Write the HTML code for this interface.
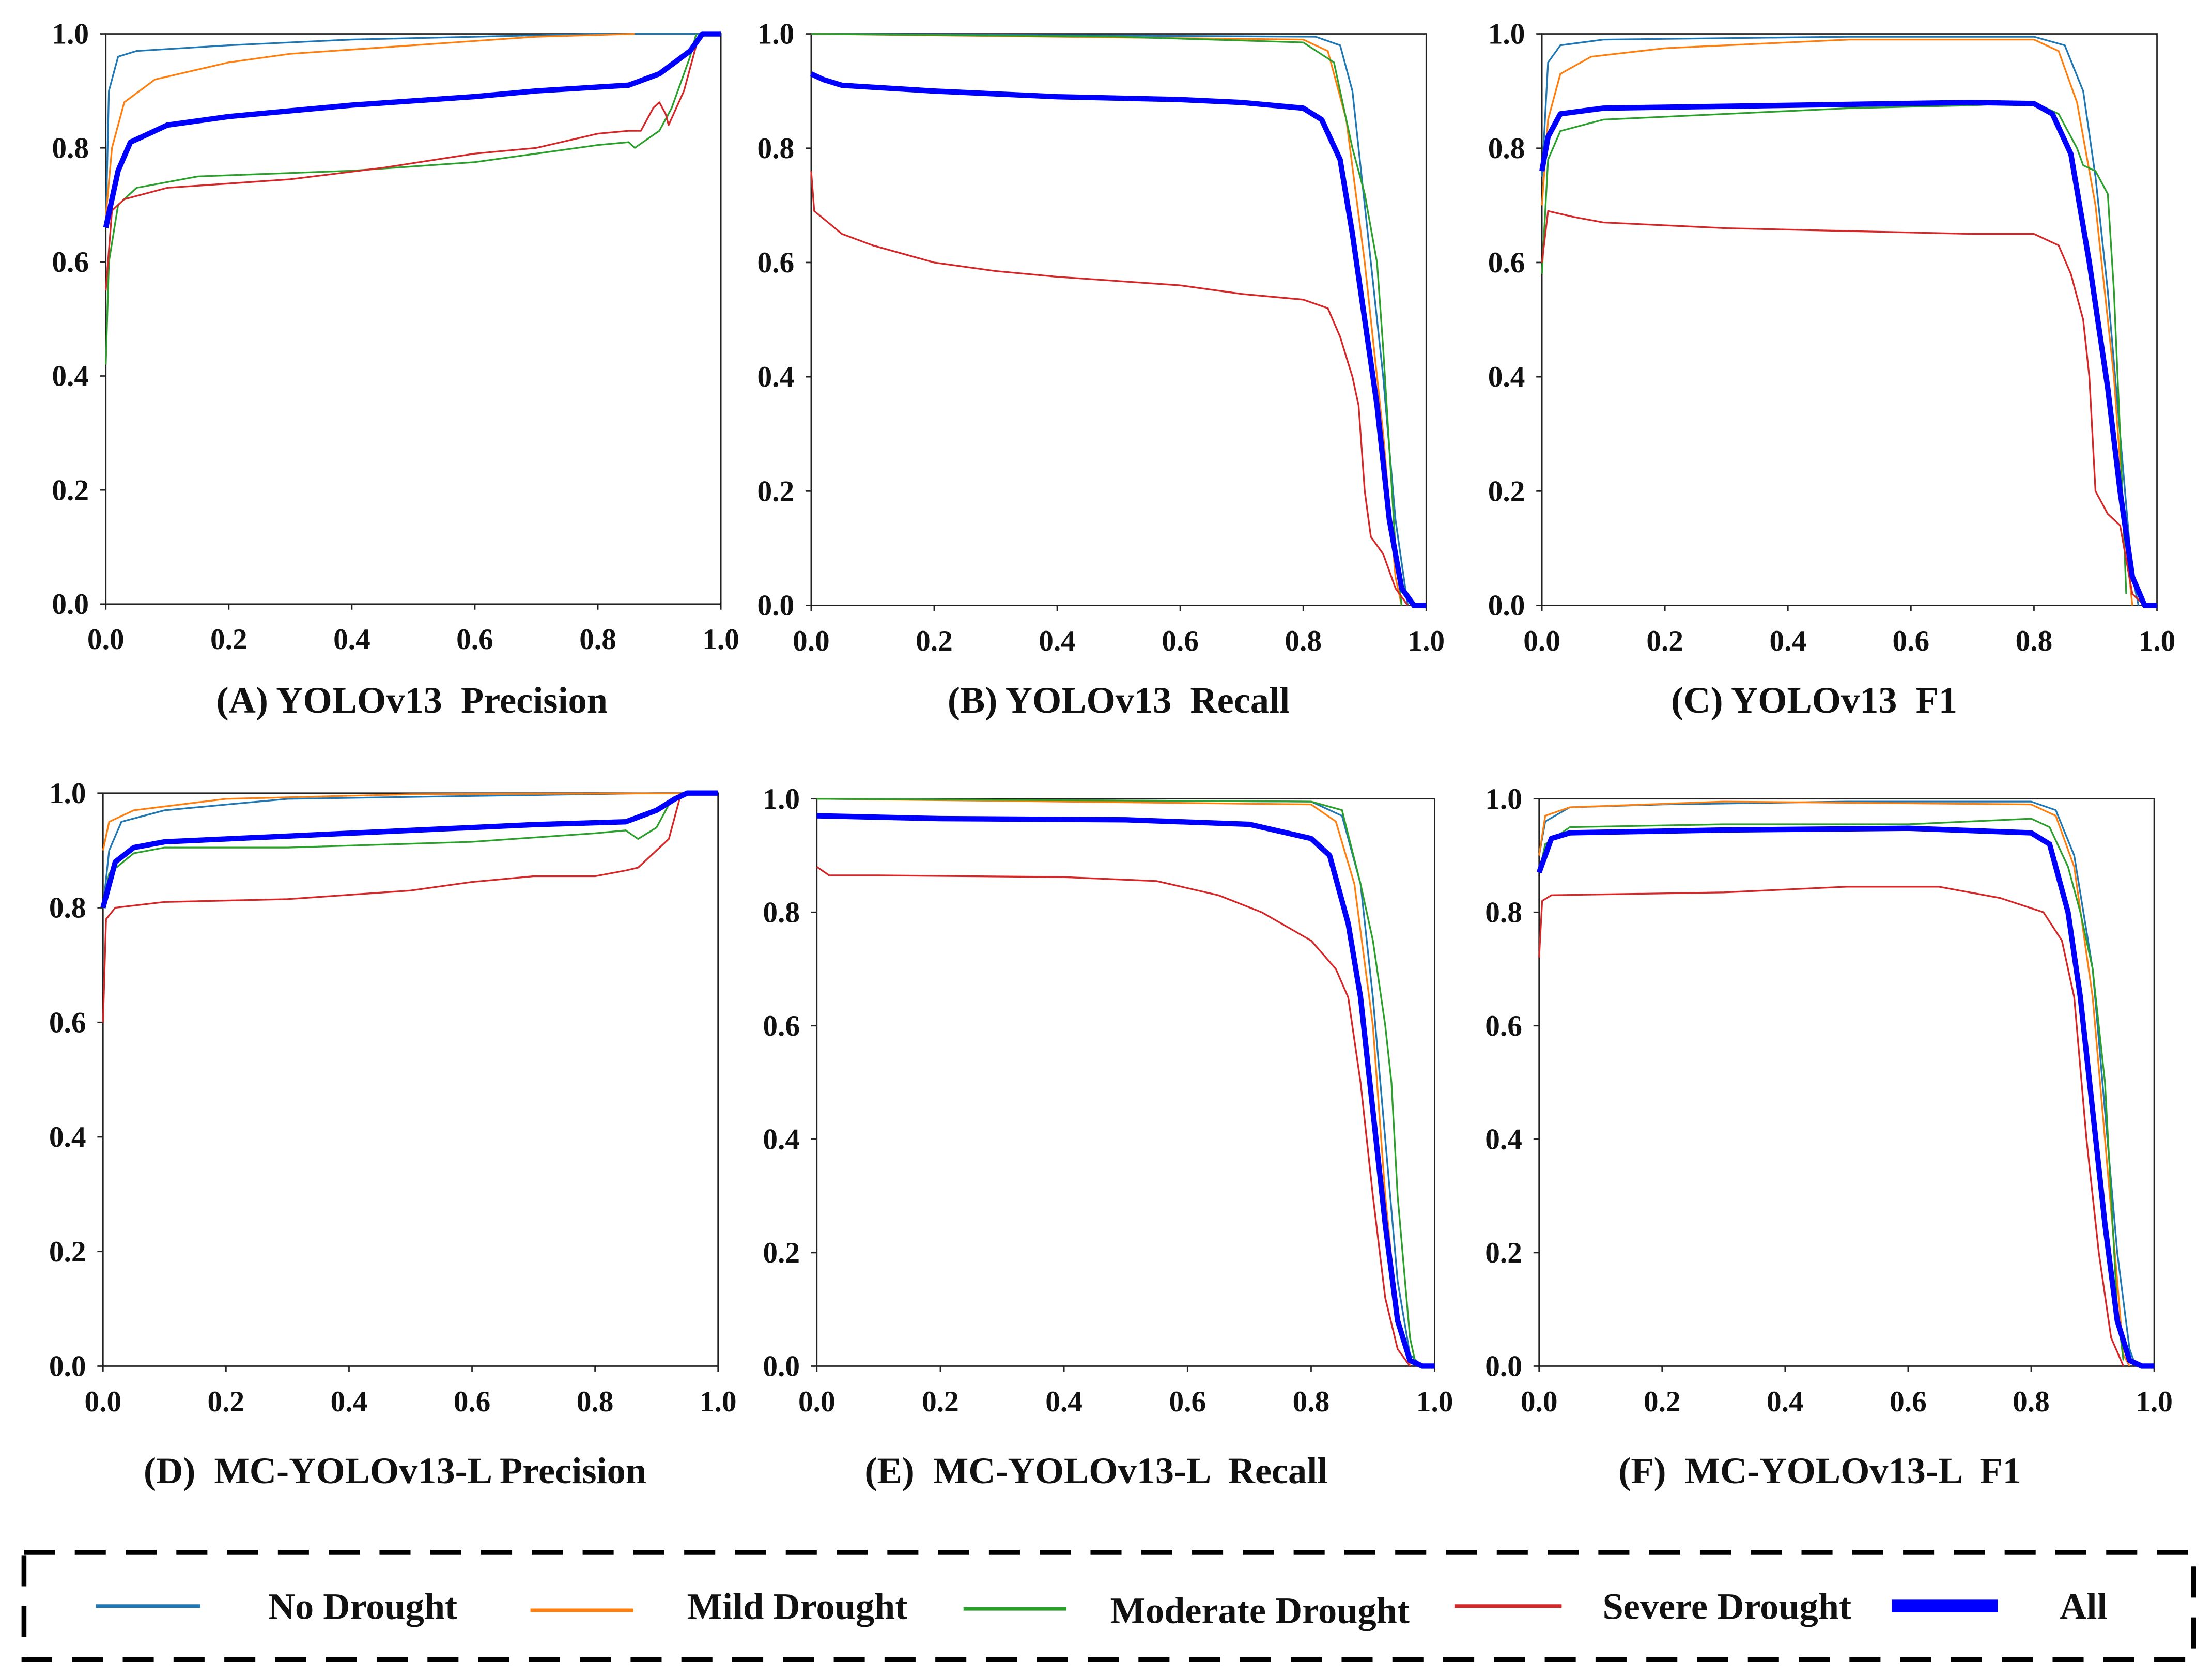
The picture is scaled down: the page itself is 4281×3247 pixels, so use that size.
<!DOCTYPE html>
<html><head><meta charset="utf-8">
<style>
html,body{margin:0;padding:0;background:#fff;}
svg{display:block;}
text{font-family:"Liberation Serif",serif;font-weight:bold;fill:#111;white-space:pre;}
</style></head>
<body>
<svg id="fig" width="4281" height="3247" viewBox="0 0 1568 1189" preserveAspectRatio="none" xmlns="http://www.w3.org/2000/svg">
<rect x="0" y="0" width="1568" height="1189" fill="#fff"/>
<g id="panels"></g>
<g id="legend">
  <rect x="17" y="1100" width="1538" height="76" fill="none" stroke="#000" stroke-width="3.5" stroke-dasharray="22 14"/>
  <g>
    <line x1="68" y1="1138" x2="142" y2="1138" stroke="#1f77b4" stroke-width="2.5"/>
    <text x="190" y="1147" font-size="26.5">No Drought</text>
  </g>
  <g>
    <line x1="376" y1="1141" x2="449" y2="1141" stroke="#ff7f0e" stroke-width="2.5"/>
    <text x="487" y="1147" font-size="26.5">Mild Drought</text>
  </g>
  <g>
    <line x1="683" y1="1140" x2="756" y2="1140" stroke="#2ca02c" stroke-width="2.5"/>
    <text x="787" y="1150" font-size="26.5">Moderate Drought</text>
  </g>
  <g>
    <line x1="1031" y1="1138" x2="1107" y2="1138" stroke="#d62728" stroke-width="2.5"/>
    <text x="1136" y="1147" font-size="26.5">Severe Drought</text>
  </g>
  <g>
    <line x1="1341" y1="1138" x2="1416" y2="1138" stroke="#0000ff" stroke-width="9"/>
    <text x="1460" y="1147" font-size="26.5">All</text>
  </g>
</g>
</svg>
<script>
const seriesNames = ["No Drought","Mild Drought","Moderate Drought","Severe Drought","All"];
const seriesColors = ["#1f77b4","#ff7f0e","#2ca02c","#d62728","#0000ff"];
const tickValues = [0,0.2,0.4,0.6,0.8,1.0];
const tickLabels = ["0.0","0.2","0.4","0.6","0.8","1.0"];
const panelTitles = ["(A) YOLOv13  Precision","(B) YOLOv13  Recall","(C) YOLOv13  F1","(D)  MC-YOLOv13-L Precision","(E)  MC-YOLOv13-L  Recall","(F)  MC-YOLOv13-L  F1"];

// Panel A
const aNo=[[0,0.66],[0.005,0.9],[0.02,0.96],[0.05,0.97],[0.2,0.98],[0.4,0.99],[0.6,0.995],[0.8,1],[1,1]];
const aMild=[[0,0.68],[0.01,0.8],[0.03,0.88],[0.08,0.92],[0.2,0.95],[0.3,0.965],[0.5,0.98],[0.7,0.995],[0.86,1]];
const aMod=[[0,0.42],[0.005,0.6],[0.02,0.7],[0.05,0.73],[0.15,0.75],[0.4,0.76],[0.6,0.775],[0.8,0.805],[0.85,0.81],[0.86,0.8],[0.9,0.83],[0.92,0.87],[0.95,0.96],[0.96,1]];
const aSev=[[0,0.55],[0.01,0.69],[0.03,0.71],[0.1,0.73],[0.3,0.745],[0.45,0.765],[0.6,0.79],[0.7,0.8],[0.8,0.825],[0.85,0.83],[0.87,0.83],[0.89,0.87],[0.9,0.88],[0.91,0.86],[0.915,0.84],[0.94,0.9],[0.96,0.98]];
const aAll=[[0,0.66],[0.02,0.76],[0.04,0.81],[0.1,0.84],[0.2,0.855],[0.4,0.875],[0.6,0.89],[0.7,0.9],[0.85,0.91],[0.9,0.93],[0.95,0.97],[0.97,1],[1,1]];
// Panel B
const bNo=[[0,1],[0.82,0.995],[0.86,0.98],[0.88,0.9],[0.9,0.7],[0.93,0.4],[0.95,0.15],[0.97,0]];
const bMild=[[0,1],[0.8,0.99],[0.84,0.97],[0.87,0.85],[0.9,0.6],[0.93,0.3],[0.95,0.05],[0.96,0]];
const bMod=[[0,1],[0.5,0.995],[0.8,0.985],[0.85,0.95],[0.88,0.8],[0.9,0.72],[0.92,0.6],[0.93,0.45],[0.95,0.1],[0.96,0]];
const bSev=[[0,0.76],[0.005,0.69],[0.05,0.65],[0.1,0.63],[0.2,0.6],[0.3,0.585],[0.4,0.575],[0.6,0.56],[0.7,0.545],[0.8,0.535],[0.84,0.52],[0.86,0.47],[0.88,0.4],[0.89,0.35],[0.9,0.2],[0.91,0.12],[0.93,0.09],[0.95,0.03],[0.97,0]];
const bAll=[[0,0.93],[0.02,0.92],[0.05,0.91],[0.2,0.9],[0.4,0.89],[0.6,0.885],[0.7,0.88],[0.8,0.87],[0.83,0.85],[0.86,0.78],[0.88,0.65],[0.9,0.5],[0.92,0.35],[0.94,0.15],[0.96,0.03],[0.98,0],[1,0]];
// Panel C
const cNo=[[0,0.75],[0.01,0.95],[0.03,0.98],[0.1,0.99],[0.5,0.995],[0.8,0.995],[0.85,0.98],[0.88,0.9],[0.9,0.75],[0.92,0.55],[0.94,0.3],[0.96,0.05],[0.97,0]];
const cMild=[[0,0.7],[0.01,0.85],[0.03,0.93],[0.08,0.96],[0.2,0.975],[0.5,0.99],[0.8,0.99],[0.84,0.97],[0.87,0.88],[0.9,0.7],[0.93,0.4],[0.95,0.1],[0.96,0]];
const cMod=[[0,0.58],[0.01,0.78],[0.03,0.83],[0.1,0.85],[0.3,0.86],[0.5,0.87],[0.7,0.875],[0.8,0.88],[0.84,0.86],[0.87,0.8],[0.88,0.77],[0.9,0.76],[0.92,0.72],[0.93,0.55],[0.94,0.3],[0.95,0.02]];
const cSev=[[0,0.6],[0.01,0.69],[0.05,0.68],[0.1,0.67],[0.3,0.66],[0.5,0.655],[0.7,0.65],[0.8,0.65],[0.84,0.63],[0.86,0.58],[0.88,0.5],[0.89,0.4],[0.9,0.2],[0.92,0.16],[0.94,0.14],[0.96,0.02],[0.98,0]];
const cAll=[[0,0.76],[0.01,0.82],[0.03,0.86],[0.1,0.87],[0.4,0.875],[0.7,0.88],[0.8,0.878],[0.83,0.86],[0.86,0.79],[0.89,0.6],[0.92,0.38],[0.94,0.2],[0.96,0.05],[0.98,0],[1,0]];
// Panel D
const dNo=[[0,0.8],[0.01,0.9],[0.03,0.95],[0.1,0.97],[0.2,0.98],[0.3,0.99],[0.6,0.995],[0.9,1],[1,1]];
const dMild=[[0,0.9],[0.01,0.95],[0.05,0.97],[0.2,0.99],[0.5,0.998],[1,1]];
const dMod=[[0,0.8],[0.01,0.86],[0.05,0.895],[0.1,0.905],[0.3,0.905],[0.6,0.915],[0.8,0.93],[0.85,0.935],[0.87,0.92],[0.9,0.94],[0.92,0.98],[0.94,1]];
const dSev=[[0,0.6],[0.005,0.78],[0.02,0.8],[0.1,0.81],[0.3,0.815],[0.5,0.83],[0.6,0.845],[0.7,0.855],[0.8,0.855],[0.85,0.865],[0.87,0.87],[0.88,0.88],[0.9,0.9],[0.92,0.92],[0.93,0.96],[0.94,1]];
const dAll=[[0,0.8],[0.02,0.88],[0.05,0.905],[0.1,0.915],[0.3,0.925],[0.5,0.935],[0.7,0.945],[0.85,0.95],[0.9,0.97],[0.93,0.99],[0.95,1],[1,1]];
// Panel E
const eNo=[[0,1],[0.8,0.995],[0.85,0.97],[0.88,0.85],[0.9,0.65],[0.92,0.4],[0.94,0.15],[0.96,0.02],[0.98,0]];
const eMild=[[0,1],[0.8,0.99],[0.84,0.96],[0.87,0.85],[0.9,0.6],[0.92,0.3],[0.94,0.08],[0.96,0]];
const eMod=[[0,1],[0.8,0.995],[0.85,0.98],[0.88,0.85],[0.9,0.75],[0.92,0.6],[0.93,0.5],[0.94,0.3],[0.96,0.05],[0.97,0]];
const eSev=[[0,0.88],[0.02,0.865],[0.1,0.865],[0.4,0.862],[0.55,0.855],[0.65,0.83],[0.72,0.8],[0.8,0.75],[0.84,0.7],[0.86,0.65],[0.88,0.5],[0.9,0.3],[0.92,0.12],[0.94,0.03],[0.96,0]];
const eAll=[[0,0.97],[0.2,0.965],[0.5,0.963],[0.7,0.955],[0.8,0.93],[0.83,0.9],[0.86,0.78],[0.88,0.65],[0.9,0.45],[0.92,0.25],[0.94,0.08],[0.96,0.01],[0.98,0],[1,0]];
// Panel F
const fNo=[[0,0.9],[0.01,0.96],[0.05,0.985],[0.2,0.99],[0.5,0.995],[0.8,0.995],[0.84,0.98],[0.87,0.9],[0.9,0.7],[0.92,0.45],[0.94,0.2],[0.96,0.03],[0.97,0]];
const fMild=[[0,0.9],[0.01,0.97],[0.05,0.985],[0.3,0.995],[0.8,0.99],[0.84,0.97],[0.87,0.88],[0.9,0.65],[0.92,0.4],[0.94,0.15],[0.95,0.02],[0.96,0]];
const fMod=[[0,0.87],[0.01,0.92],[0.05,0.95],[0.3,0.955],[0.6,0.955],[0.8,0.965],[0.83,0.95],[0.86,0.88],[0.88,0.8],[0.9,0.7],[0.92,0.5],[0.94,0.1],[0.95,0.01]];
const fSev=[[0,0.72],[0.005,0.82],[0.02,0.83],[0.3,0.835],[0.5,0.845],[0.65,0.845],[0.75,0.825],[0.82,0.8],[0.85,0.75],[0.87,0.65],[0.89,0.4],[0.91,0.2],[0.93,0.05],[0.95,0]];
const fAll=[[0,0.87],[0.02,0.93],[0.05,0.94],[0.3,0.945],[0.6,0.948],[0.8,0.94],[0.83,0.92],[0.86,0.8],[0.88,0.65],[0.9,0.45],[0.92,0.25],[0.94,0.08],[0.96,0.01],[0.98,0],[1,0]];

const panelSeries=[[aNo,aMild,aMod,aSev,aAll],[bNo,bMild,bMod,bSev,bAll],[cNo,cMild,cMod,cSev,cAll],[dNo,dMild,dMod,dSev,dAll],[eNo,eMild,eMod,eSev,eAll],[fNo,fMild,fMod,fSev,fAll]];

const boxes=[
 {l:75,r:511,t:24,b:428,tx:292,ty:505},
 {l:575,r:1011,t:24,b:429,tx:793,ty:505},
 {l:1093,r:1529,t:24,b:429,tx:1286,ty:505},
 {l:73,r:509,t:562,b:968,tx:280,ty:1051},
 {l:579,r:1017,t:566,b:968,tx:777,ty:1051},
 {l:1091,r:1527,t:566,b:968,tx:1290,ty:1051}
];
const NS="http://www.w3.org/2000/svg";
const root=document.getElementById('panels');
const letters=["a","b","c","d","e","f"];
function mk(tag,attrs,parent){const e=document.createElementNS(NS,tag);for(const k in attrs)e.setAttribute(k,attrs[k]);parent.appendChild(e);return e;}
boxes.forEach((bx,pi)=>{
  const xs=v=>bx.l+v*(bx.r-bx.l);
  const ys=v=>bx.b-v*(bx.b-bx.t);
  const g=mk('g',{},root);
  
  
  const clipId='clip'+pi;
  const cp=mk('clipPath',{id:clipId},g);
  mk('rect',{x:bx.l-2,y:bx.t-3,width:bx.r-bx.l+4,height:bx.b-bx.t+6},cp);
  const frame=mk('rect',{x:bx.l,y:bx.t,width:bx.r-bx.l,height:bx.b-bx.t,fill:'none',stroke:'#222','stroke-width':1},g);
  
  
  tickValues.forEach((tv,i)=>{
    mk('line',{x1:bx.l-4,x2:bx.l,y1:ys(tv),y2:ys(tv),stroke:'#222','stroke-width':1},g);
    mk('line',{x1:xs(tv),x2:xs(tv),y1:bx.b,y2:bx.b+4,stroke:'#222','stroke-width':1},g);
    const yl=mk('text',{x:bx.l-12,y:ys(tv)+7,'font-size':21,'text-anchor':'end'},g);
    yl.textContent=tickLabels[i];
    
    
    const xl=mk('text',{x:xs(tv),y:bx.b+32,'font-size':21,'text-anchor':'middle'},g);
    xl.textContent=tickLabels[i];
    
    
  });
  const lines=mk('g',{'clip-path':'url(#'+clipId+')'},g);
  panelSeries[pi].forEach((pts,si)=>{
    const d=pts.map((p,k)=>(k?'L':'M')+xs(p[0]).toFixed(2)+','+ys(p[1]).toFixed(2)).join(' ');
    const path=mk('path',{d:d,fill:'none',stroke:seriesColors[si],'stroke-width':si===4?3.8:1.2,'stroke-linejoin':'round'},lines);
    
    
  });
  const t=mk('text',{x:bx.tx,y:bx.ty,'font-size':26.5,'text-anchor':'middle'},g);
  t.textContent=panelTitles[pi];
  
  
});
</script>
</body></html>
